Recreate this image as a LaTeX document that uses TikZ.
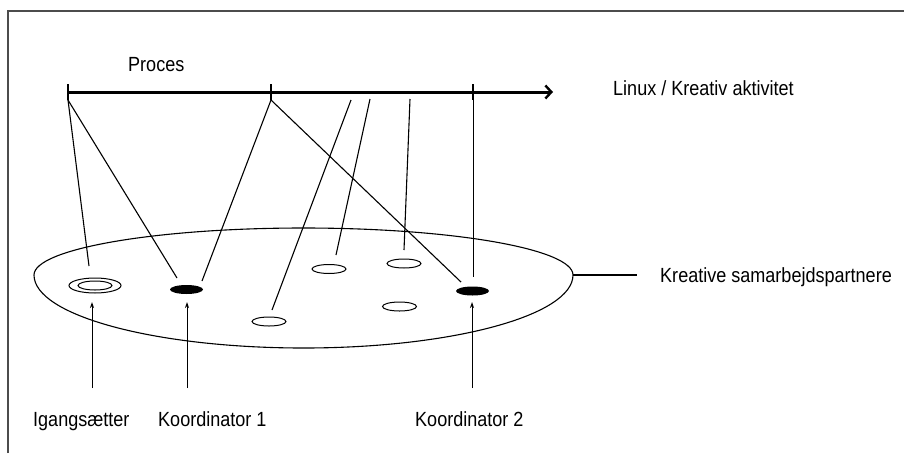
\documentclass[tikz,border=0pt]{standalone}
\usepackage{fontspec}
\setmainfont[FakeStretch=0.88]{Liberation Sans}
\usetikzlibrary{arrows.meta,shapes.geometric}
\begin{document}
\begin{tikzpicture}[x=1pt,y=-1pt,
  thinline/.style={line width=1.1pt},
  member/.style={ellipse, draw, line width=1pt, minimum width=34pt, minimum height=9pt, inner sep=0pt},
  lead/.style={ellipse, fill=black, minimum width=33pt, minimum height=9pt, inner sep=0pt},
  pointer/.style={line width=1pt, -{Stealth[length=6pt,width=4pt]}},
  tickmark/.style={line width=2.4pt},
  caption/.style={anchor=base west, inner sep=0pt, font=\fontsize{20.5}{22}\selectfont}]

\useasboundingbox (0,0) rectangle (904,453);

% open frame
\draw[black!70, line width=2pt] (8,453) -- (8,11) -- (904,11);

% time line with ticks
\coordinate (t0) at (68,92);
\coordinate (t1) at (271,92);
\coordinate (t2) at (473,92);
\coordinate (tend) at (553,92);
\draw[line width=3pt, -{Straight Barb[length=6pt,width=13pt,line width=2.4pt]}] (t0) -- (tend);
\foreach \t in {t0,t1,t2} \draw[tickmark] (\t) ++(0,-8) -- ++(0,16);

\coordinate (b0) at (68,100);
\coordinate (b1) at (271,100);
\coordinate (b2) at (473,100);
\coordinate (s1) at (351,100);
\coordinate (s2) at (370,99);
\coordinate (s3) at (410,99);

% group of collaborators
\coordinate (eL) at (34,275);
\coordinate (eR) at (573,275);
\draw[thinline] (eL) arc[start angle=180, end angle=0, x radius=269.5pt, y radius=47pt]
                     arc[start angle=0, end angle=-180, x radius=269.5pt, y radius=73pt];

% initiator: double ring
\node[member, minimum width=52pt, minimum height=15pt] (ig) at (95,285.5) {};
\node[member, minimum width=34pt, minimum height=9pt] (igin) at (95,285.5) {};
% coordinators
\node[lead] (k1) at (186.5,289.5) {};
\node[lead] (k2) at (472.5,291) {};
% other members
\node[member] (m1) at (269,321.5) {};
\node[member] (m2) at (329,269) {};
\node[member] (m3) at (404,263.5) {};
\node[member] (m4) at (399.5,306.5) {};

% links from the process to the members
\coordinate (e1) at (89,266);
\coordinate (e2) at (177,278);
\coordinate (e3) at (202,281);
\coordinate (e4) at (461,282);
\coordinate (e5) at (272,310);
\coordinate (e6) at (336,255);
\coordinate (e7) at (404,250);
\coordinate (e8) at (473,277);
\draw[thinline] (b0) -- (e1);
\draw[thinline] (b0) -- (e2);
\draw[thinline] (b1) -- (e3);
\draw[thinline] (b1) -- (e4);
\draw[thinline] (s1) -- (e5);
\draw[thinline] (s2) -- (e6);
\draw[thinline] (s3) -- (e7);
\draw[line width=1pt] (b2) -- (e8);

% texts
\node[caption] (proces) at (128,71) {Proces};
\node[caption] (linux) at (613,95) {Linux / Kreativ aktivitet};
\node[caption] (kreative) at (660,282) {Kreative samarbejdspartnere};
\node[caption] (igt) at (33,426) {Igangsætter};
\node[caption] (k1t) at (158,426) {Koordinator 1};
\node[caption] (k2t) at (415,426) {Koordinator 2};

\draw[thinline] (eR) -- (637,275);

% role pointers
\coordinate (a1) at (92,388);
\coordinate (a2) at (187,388);
\coordinate (a3) at (472,388);
\draw[pointer] (a1) -- (92,302);
\draw[pointer] (a2) -- (187,302);
\draw[pointer] (a3) -- (472,302);
\end{tikzpicture}
\end{document}
